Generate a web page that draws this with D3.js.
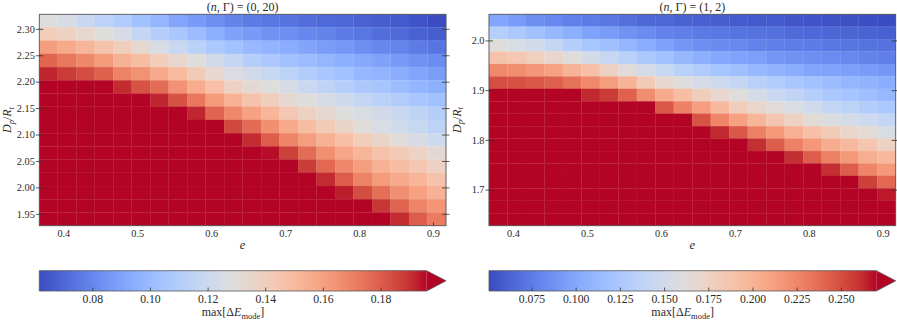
<!DOCTYPE html>
<html>
<head>
<meta charset="utf-8">
<script src="https://cdn.jsdelivr.net/npm/d3@7"></script>
<style>
body { margin: 0; background: #fff; }
svg text { font-family: "Liberation Serif", "DejaVu Serif", serif; fill: #2b2b2b; }
</style>
</head>
<body>
<div id="fig"></div>
<script>
// eccentricity (column centres), shared by both panels
var eVals = [0.380, 0.405, 0.430, 0.455, 0.480, 0.505, 0.530, 0.555, 0.580, 0.605, 0.630,
             0.655, 0.680, 0.705, 0.730, 0.755, 0.780, 0.805, 0.830, 0.855, 0.880, 0.905];

// D_p/R_t row centres, top row first
var dLeft  = [2.315, 2.290, 2.265, 2.240, 2.215, 2.190, 2.165, 2.140, 2.115, 2.090, 2.065, 2.040, 2.015, 1.990, 1.965, 1.940];
var dRight = [2.040, 2.015, 1.990, 1.965, 1.940, 1.915, 1.890, 1.865, 1.840, 1.815, 1.790, 1.765, 1.740, 1.715, 1.690, 1.665, 1.640];

// max[dE_mode], (n, Gamma) = (0, 20), one row per dLeft value
var gridLeft = [
  [0.129,0.125,0.119,0.114,0.109,0.103,0.098,0.091,0.087,0.083,0.079,0.076,0.075,0.074,0.072,0.071,0.070,0.068,0.067,0.066,0.064,0.062],
  [0.141,0.138,0.134,0.129,0.125,0.117,0.111,0.106,0.101,0.095,0.090,0.087,0.084,0.083,0.080,0.079,0.076,0.075,0.072,0.071,0.068,0.067],
  [0.161,0.157,0.152,0.146,0.140,0.133,0.126,0.119,0.113,0.107,0.103,0.099,0.097,0.094,0.091,0.088,0.086,0.083,0.080,0.079,0.076,0.074],
  [0.178,0.173,0.168,0.162,0.154,0.149,0.141,0.134,0.129,0.123,0.117,0.111,0.107,0.103,0.101,0.098,0.095,0.093,0.090,0.087,0.084,0.082],
  [0.192,0.188,0.184,0.179,0.170,0.165,0.157,0.150,0.142,0.134,0.127,0.123,0.118,0.114,0.110,0.106,0.103,0.099,0.097,0.094,0.091,0.088],
  [0.214,0.209,0.204,0.199,0.191,0.183,0.176,0.165,0.156,0.148,0.138,0.133,0.129,0.125,0.119,0.115,0.111,0.107,0.105,0.101,0.098,0.095],
  [0.225,0.222,0.218,0.214,0.207,0.200,0.192,0.183,0.173,0.162,0.154,0.146,0.140,0.133,0.129,0.125,0.121,0.117,0.113,0.110,0.106,0.103],
  [0.236,0.233,0.229,0.225,0.220,0.214,0.207,0.201,0.192,0.178,0.168,0.160,0.152,0.144,0.138,0.133,0.129,0.126,0.123,0.119,0.115,0.111],
  [0.246,0.243,0.240,0.236,0.232,0.227,0.222,0.216,0.210,0.203,0.185,0.176,0.166,0.157,0.149,0.142,0.136,0.130,0.126,0.122,0.118,0.114],
  [0.255,0.252,0.249,0.246,0.242,0.238,0.233,0.228,0.222,0.215,0.205,0.191,0.180,0.169,0.161,0.154,0.148,0.141,0.136,0.130,0.125,0.121],
  [0.264,0.261,0.258,0.255,0.251,0.247,0.243,0.238,0.232,0.225,0.217,0.206,0.195,0.187,0.176,0.166,0.158,0.152,0.146,0.142,0.137,0.132],
  [0.272,0.270,0.267,0.264,0.260,0.256,0.252,0.247,0.242,0.236,0.229,0.220,0.210,0.200,0.188,0.177,0.168,0.161,0.154,0.149,0.144,0.138],
  [0.280,0.278,0.275,0.272,0.268,0.264,0.260,0.255,0.250,0.244,0.237,0.229,0.220,0.210,0.199,0.191,0.180,0.170,0.162,0.157,0.152,0.146],
  [0.287,0.285,0.282,0.279,0.276,0.272,0.268,0.263,0.258,0.252,0.245,0.238,0.230,0.221,0.211,0.200,0.193,0.184,0.175,0.166,0.160,0.154],
  [0.294,0.292,0.289,0.286,0.283,0.279,0.275,0.271,0.266,0.260,0.254,0.247,0.239,0.231,0.222,0.213,0.205,0.198,0.189,0.178,0.169,0.164],
  [0.300,0.298,0.296,0.293,0.290,0.286,0.282,0.278,0.273,0.268,0.262,0.255,0.248,0.240,0.232,0.224,0.215,0.207,0.199,0.191,0.180,0.172]
];

// max[dE_mode], (n, Gamma) = (1, 2), one row per dRight value
var gridRight = [
  [0.099,0.093,0.086,0.082,0.078,0.075,0.073,0.069,0.065,0.064,0.062,0.061,0.060,0.059,0.058,0.058,0.056,0.055,0.054,0.053,0.052,0.051],
  [0.132,0.125,0.119,0.112,0.106,0.097,0.093,0.088,0.084,0.079,0.077,0.074,0.073,0.071,0.070,0.069,0.066,0.065,0.064,0.063,0.062,0.061],
  [0.161,0.156,0.150,0.141,0.132,0.123,0.117,0.110,0.104,0.097,0.090,0.086,0.084,0.082,0.079,0.077,0.076,0.075,0.073,0.072,0.071,0.070],
  [0.189,0.185,0.178,0.171,0.161,0.152,0.143,0.134,0.125,0.119,0.112,0.106,0.101,0.097,0.095,0.090,0.088,0.086,0.084,0.082,0.079,0.077],
  [0.224,0.222,0.217,0.211,0.200,0.191,0.176,0.163,0.154,0.143,0.134,0.128,0.121,0.117,0.112,0.108,0.104,0.099,0.097,0.095,0.093,0.090],
  [0.250,0.249,0.246,0.243,0.235,0.224,0.213,0.200,0.182,0.169,0.161,0.154,0.147,0.141,0.134,0.128,0.123,0.119,0.115,0.110,0.108,0.104],
  [0.290,0.287,0.283,0.279,0.274,0.263,0.257,0.242,0.222,0.206,0.193,0.180,0.169,0.161,0.154,0.145,0.139,0.132,0.125,0.121,0.117,0.112],
  [0.300,0.297,0.294,0.290,0.286,0.282,0.278,0.274,0.270,0.246,0.228,0.213,0.196,0.180,0.171,0.163,0.156,0.150,0.141,0.136,0.130,0.125],
  [0.310,0.307,0.304,0.301,0.298,0.294,0.290,0.286,0.282,0.278,0.273,0.248,0.226,0.211,0.198,0.187,0.176,0.165,0.158,0.152,0.147,0.141],
  [0.318,0.316,0.313,0.310,0.307,0.304,0.300,0.296,0.292,0.288,0.283,0.276,0.263,0.246,0.228,0.215,0.202,0.191,0.182,0.171,0.165,0.156],
  [0.326,0.324,0.321,0.318,0.315,0.312,0.309,0.305,0.301,0.297,0.292,0.287,0.281,0.275,0.261,0.244,0.228,0.217,0.204,0.196,0.187,0.176],
  [0.334,0.332,0.329,0.326,0.323,0.320,0.317,0.314,0.310,0.306,0.302,0.297,0.292,0.287,0.281,0.275,0.261,0.244,0.228,0.215,0.204,0.196],
  [0.341,0.339,0.337,0.334,0.331,0.328,0.325,0.322,0.318,0.314,0.310,0.306,0.301,0.296,0.291,0.286,0.280,0.274,0.261,0.244,0.226,0.215],
  [0.348,0.346,0.344,0.341,0.338,0.335,0.332,0.329,0.326,0.322,0.318,0.314,0.310,0.305,0.300,0.295,0.290,0.284,0.279,0.273,0.255,0.239],
  [0.354,0.352,0.350,0.347,0.344,0.341,0.338,0.335,0.332,0.329,0.325,0.321,0.317,0.313,0.308,0.303,0.298,0.293,0.288,0.282,0.276,0.266],
  [0.360,0.358,0.356,0.353,0.350,0.347,0.344,0.341,0.338,0.335,0.331,0.327,0.323,0.319,0.314,0.309,0.304,0.299,0.294,0.289,0.283,0.277],
  [0.366,0.364,0.362,0.359,0.356,0.353,0.350,0.347,0.344,0.341,0.337,0.333,0.329,0.325,0.320,0.315,0.310,0.305,0.300,0.295,0.289,0.283]
];

// colour limits and ticks
var vRangeLeft  = [0.0616, 0.196];
var vRangeRight = [0.051, 0.270];
var xTicks       = [0.4, 0.5, 0.6, 0.7, 0.8, 0.9];
var yTicksLeft   = [1.95, 2.00, 2.05, 2.10, 2.15, 2.20, 2.25, 2.30];
var yTicksRight  = [1.7, 1.8, 1.9, 2.0];
var cbTicksLeft  = [0.08, 0.10, 0.12, 0.14, 0.16, 0.18];
var cbTicksRight = [0.075, 0.100, 0.125, 0.150, 0.175, 0.200, 0.225, 0.250];

// matplotlib "coolwarm"
var coolwarm = ["#3b4cc0","#445acc","#4d68d7","#5775e1","#6282ea","#6c8ef1","#779af7","#82a5fb",
                "#8db0fe","#98b9ff","#a3c2ff","#aec9fd","#b8d0f9","#c2d5f4","#ccd9ee","#d5dbe6",
                "#dddddd","#e5d8d1","#ecd3c5","#f1ccb9","#f5c4ad","#f7bba0","#f7b194","#f7a687",
                "#f49a7b","#f18d6f","#ec7f63","#e57058","#de604d","#d55042","#cb3e38","#c0282f","#b40426"];

// layout
var top0 = 14.3,
    panelW = 406.7,
    panelH = 211.4,
    cbTop = 270.7,
    cbH = 20.3;

var cmap = d3.scaleLinear()
    .domain(coolwarm.map(function(c, i) { return i / (coolwarm.length - 1); }))
    .range(coolwarm)
    .interpolate(d3.interpolateRgb)
    .clamp(true);

var svg = d3.select("#fig").append("svg")
    .attr("width", 897)
    .attr("height", 321);

var grad = svg.append("defs").append("linearGradient")
    .attr("id", "cw")
    .attr("x1", "0%").attr("x2", "100%").attr("y1", "0%").attr("y2", "0%");
coolwarm.forEach(function(c, i) {
  grad.append("stop")
      .attr("offset", (100 * i / (coolwarm.length - 1)) + "%")
      .attr("stop-color", c);
});

var eStep = eVals[1] - eVals[0];

function styleTicks(g, size) {
  g.select(".domain").remove();
  g.selectAll(".tick line").attr("stroke", "#333").attr("stroke-width", 0.8);
  g.selectAll(".tick text").style("font-size", size + "px");
}

function drawPanel(x0, dVals, grid, yTicks, yFmt, vRange, cbTicks, cbFmt, titleB) {
  var dStep = Math.abs(dVals[0] - dVals[1]);
  var x = d3.scaleLinear()
      .domain([eVals[0] - eStep / 2, eVals[eVals.length - 1] + eStep / 2])
      .range([0, panelW]);
  var y = d3.scaleLinear()
      .domain([d3.min(dVals) - dStep / 2, d3.max(dVals) + dStep / 2])
      .range([panelH, 0]);
  var norm = d3.scaleLinear().domain(vRange).range([0, 1]);

  var g = svg.append("g")
      .attr("transform", "translate(" + x0 + "," + top0 + ")");

  var cells = [];
  grid.forEach(function(row, i) {
    row.forEach(function(v, j) { cells.push({e: eVals[j], d: dVals[i], v: v}); });
  });

  // thin same-colour stroke keeps the seams between cells faint
  g.selectAll("rect.cell")
      .data(cells)
    .enter().append("rect")
      .attr("class", "cell")
      .attr("x", function(d) { return x(d.e - eStep / 2); })
      .attr("y", function(d) { return y(d.d + dStep / 2); })
      .attr("width", function(d) { return x(d.e + eStep / 2) - x(d.e - eStep / 2); })
      .attr("height", function(d) { return y(d.d - dStep / 2) - y(d.d + dStep / 2); })
      .attr("fill", function(d) { return cmap(norm(d.v)); })
      .attr("stroke", function(d) { return cmap(norm(d.v)); })
      .attr("stroke-width", 0.25);

  g.append("rect")
      .attr("width", panelW)
      .attr("height", panelH)
      .attr("fill", "none")
      .attr("stroke", "#555")
      .attr("stroke-width", 0.9);

  // x axis, ticks inside
  var gx = g.append("g")
      .attr("transform", "translate(0," + panelH + ")")
      .call(d3.axisBottom(x).tickValues(xTicks).tickFormat(d3.format(".1f")).tickSize(-3.5).tickPadding(4));
  styleTicks(gx, 10.3);

  // y axis left, ticks cross the frame
  var gy = g.append("g")
      .call(d3.axisLeft(y).tickValues(yTicks).tickFormat(yFmt).tickSize(3.5).tickPadding(1));
  styleTicks(gy, 10.3);
  gy.selectAll(".tick line").attr("x1", 4);

  var gr = g.append("g")
      .attr("transform", "translate(" + panelW + ",0)")
      .call(d3.axisRight(y).tickValues(yTicks).tickFormat("").tickSize(3.5));
  styleTicks(gr, 10.3);
  gr.selectAll(".tick line").attr("x1", -4);

  // title
  var t = g.append("text")
      .attr("x", panelW / 2)
      .attr("y", -3)
      .attr("text-anchor", "middle")
      .style("font-size", "12px");
  t.append("tspan").text("(");
  t.append("tspan").style("font-style", "italic").text("n");
  t.append("tspan").text(", \u0393) = " + titleB);

  // x label
  g.append("text")
      .attr("x", panelW / 2)
      .attr("y", panelH + 23.5)
      .attr("text-anchor", "middle")
      .style("font-size", "12.5px")
      .style("font-style", "italic")
      .text("e");

  // y label
  var yl = svg.append("text")
      .attr("transform", "translate(" + (x0 - 28.3) + "," + (top0 + panelH / 2) + ") rotate(-90)")
      .attr("text-anchor", "middle")
      .style("font-size", "12px");
  yl.append("tspan").style("font-style", "italic").text("D");
  yl.append("tspan").style("font-style", "italic").style("font-size", "8.5px").attr("dy", 2.5).text("p");
  yl.append("tspan").attr("dy", -2.5).text("/");
  yl.append("tspan").style("font-style", "italic").text("R");
  yl.append("tspan").style("font-style", "italic").style("font-size", "8.5px").attr("dy", 2.5).text("t");

  // colour bar with "max" extension
  var bw = panelW / 1.05;
  var cb = svg.append("g")
      .attr("transform", "translate(" + x0 + "," + cbTop + ")");
  cb.append("rect")
      .attr("width", bw)
      .attr("height", cbH)
      .attr("fill", "url(#cw)");
  cb.append("path")
      .attr("d", "M" + bw + ",0L" + panelW + "," + (cbH / 2) + "L" + bw + "," + cbH + "Z")
      .attr("fill", coolwarm[coolwarm.length - 1]);
  cb.append("path")
      .attr("d", "M0,0H" + bw + "L" + panelW + "," + (cbH / 2) + "L" + bw + "," + cbH + "H0Z")
      .attr("fill", "none")
      .attr("stroke", "#555")
      .attr("stroke-width", 0.8);

  var cbx = d3.scaleLinear().domain(vRange).range([0, bw]);
  var gc = cb.append("g")
      .attr("transform", "translate(0," + cbH + ")")
      .call(d3.axisBottom(cbx).tickValues(cbTicks).tickFormat(cbFmt).tickSize(-3.5).tickPadding(3.2));
  styleTicks(gc, 11.7);

  var cl = cb.append("text")
      .attr("x", bw / 2)
      .attr("y", cbH + 25.5)
      .attr("text-anchor", "middle")
      .style("font-size", "12px");
  cl.append("tspan").text("max[\u0394");
  cl.append("tspan").style("font-style", "italic").text("E");
  cl.append("tspan").style("font-size", "8.5px").attr("dy", 2.5).text("mode");
  cl.append("tspan").attr("dy", -2.5).text("]");
}

drawPanel(39.3, dLeft, gridLeft, yTicksLeft, d3.format(".2f"), vRangeLeft, cbTicksLeft, d3.format(".2f"), "(0, 20)");
drawPanel(489, dRight, gridRight, yTicksRight, d3.format(".1f"), vRangeRight, cbTicksRight, d3.format(".3f"), "(1, 2)");
</script>
</body>
</html>
